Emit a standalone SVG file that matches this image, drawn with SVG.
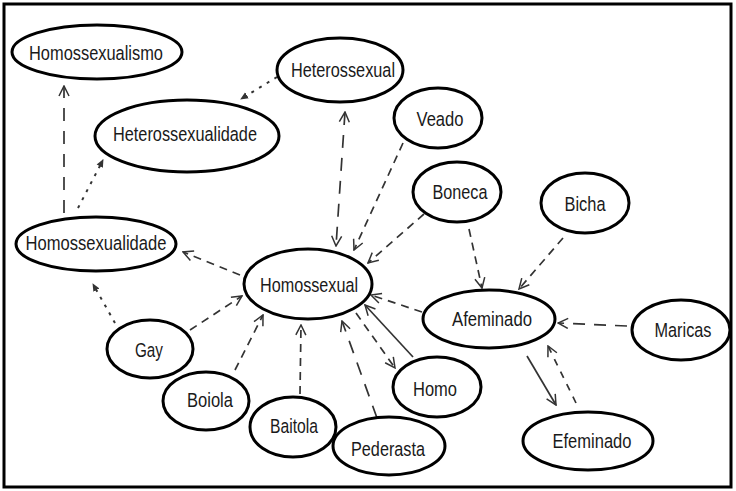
<svg xmlns="http://www.w3.org/2000/svg" width="736" height="491" viewBox="0 0 736 491">
<defs>
<marker id="open" viewBox="0 0 12 12" refX="11" refY="6" markerWidth="12" markerHeight="12" markerUnits="userSpaceOnUse" orient="auto-start-reverse">
<path d="M1,1 L11,6 L1,11" fill="none" stroke="#333" stroke-width="1.5"/>
</marker>
<marker id="tri" viewBox="0 0 8 8" refX="7" refY="4" markerWidth="8" markerHeight="8" markerUnits="userSpaceOnUse" orient="auto">
<path d="M0,0.5 L8,4 L0,7.5 Z" fill="#333"/>
</marker>
<style>
.node ellipse{fill:#fff;stroke:#000;stroke-width:3}
.node text{font-family:"Liberation Sans",Arial,sans-serif;font-size:20.5px;fill:#1a1a1a;text-anchor:middle}
.e{fill:none;stroke:#333;stroke-width:1.7}
.dash{stroke-dasharray:8,6;marker-end:url(#open)}
.long{stroke-dasharray:13,10;marker-end:url(#open)}
.dot{stroke-dasharray:3,6;stroke-width:2;marker-end:url(#tri)}
.solid{marker-end:url(#open)}
</style>
</defs>
<rect x="4" y="4" width="727" height="483" fill="#fff" stroke="#000" stroke-width="3"/>
<g id="connectors">
<line class="e long" x1="64" y1="213" x2="64" y2="86"/>
<line class="e dot" x1="78" y1="208" x2="103" y2="160"/>
<line class="e dot" x1="277" y1="77" x2="241" y2="99"/>
<line class="e long" x1="345" y1="112" x2="336" y2="246" marker-start="url(#open)"/>
<line class="e dash" x1="403" y1="143" x2="354" y2="250"/>
<line class="e dash" x1="424" y1="214" x2="368" y2="263"/>
<line class="e dash" x1="469" y1="229" x2="482" y2="288"/>
<line class="e dash" x1="563" y1="238" x2="519" y2="289"/>
<line class="e dash" style="stroke-dasharray:12,9" x1="627" y1="326" x2="558" y2="323"/>
<line class="e dash" x1="422" y1="312" x2="371" y2="295"/>
<line class="e solid" x1="527" y1="356" x2="556" y2="405"/>
<line class="e dash" style="stroke-dasharray:7,7" x1="576" y1="403" x2="548" y2="346"/>
<line class="e solid" x1="413" y1="357" x2="365" y2="305"/>
<line class="e dash" x1="356" y1="313" x2="395" y2="368"/>
<line class="e long" x1="377" y1="418" x2="342" y2="321"/>
<line class="e dash" x1="300" y1="394" x2="301" y2="325"/>
<line class="e dash" x1="235" y1="370" x2="263" y2="315"/>
<line class="e dash" x1="190" y1="330" x2="242" y2="296"/>
<line class="e dot" x1="115" y1="323" x2="93" y2="284"/>
<line class="e dash" x1="240" y1="275" x2="183" y2="252"/>
</g>
<g id="n-homossexualismo" class="node"><ellipse cx="97" cy="52" rx="85" ry="27"/><text x="96" y="60" textLength="134" lengthAdjust="spacingAndGlyphs">Homossexualismo</text></g>
<g id="n-heterossexual" class="node"><ellipse cx="340" cy="70" rx="63" ry="32"/><text x="343" y="77" textLength="104" lengthAdjust="spacingAndGlyphs">Heterossexual</text></g>
<g id="n-heterossexualidade" class="node"><ellipse cx="187" cy="136" rx="92" ry="36"/><text x="185" y="141" textLength="144" lengthAdjust="spacingAndGlyphs">Heterossexualidade</text></g>
<g id="n-homossexualidade" class="node"><ellipse cx="96" cy="244" rx="80" ry="27"/><text x="96" y="250" textLength="141" lengthAdjust="spacingAndGlyphs">Homossexualidade</text></g>
<g id="n-homossexual" class="node"><ellipse cx="308" cy="284" rx="64" ry="35"/><text x="309" y="292" textLength="98" lengthAdjust="spacingAndGlyphs">Homossexual</text></g>
<g id="n-veado" class="node"><ellipse cx="438" cy="118" rx="44" ry="30"/><text x="440" y="126" textLength="47" lengthAdjust="spacingAndGlyphs">Veado</text></g>
<g id="n-boneca" class="node"><ellipse cx="457" cy="192" rx="44" ry="30"/><text x="460" y="199" textLength="55" lengthAdjust="spacingAndGlyphs">Boneca</text></g>
<g id="n-bicha" class="node"><ellipse cx="585" cy="203" rx="44" ry="30"/><text x="585" y="211" textLength="41" lengthAdjust="spacingAndGlyphs">Bicha</text></g>
<g id="n-afeminado" class="node"><ellipse cx="489" cy="319" rx="66" ry="29"/><text x="492" y="326" textLength="80" lengthAdjust="spacingAndGlyphs">Afeminado</text></g>
<g id="n-maricas" class="node"><ellipse cx="681" cy="330" rx="49" ry="30"/><text x="683" y="337" textLength="57" lengthAdjust="spacingAndGlyphs">Maricas</text></g>
<g id="n-homo" class="node"><ellipse cx="437" cy="387" rx="44" ry="30"/><text x="435" y="396" textLength="44" lengthAdjust="spacingAndGlyphs">Homo</text></g>
<g id="n-efeminado" class="node"><ellipse cx="588" cy="441" rx="65" ry="29"/><text x="592" y="448" textLength="79" lengthAdjust="spacingAndGlyphs">Efeminado</text></g>
<g id="n-pederasta" class="node"><ellipse cx="389" cy="446" rx="56" ry="29"/><text x="388" y="456" textLength="74" lengthAdjust="spacingAndGlyphs">Pederasta</text></g>
<g id="n-gay" class="node"><ellipse cx="150" cy="349" rx="43" ry="29"/><text x="149" y="357" textLength="28" lengthAdjust="spacingAndGlyphs">Gay</text></g>
<g id="n-boiola" class="node"><ellipse cx="206" cy="401" rx="43" ry="29"/><text x="210" y="407" textLength="46" lengthAdjust="spacingAndGlyphs">Boiola</text></g>
<g id="n-baitola" class="node"><ellipse cx="293" cy="427" rx="43" ry="30"/><text x="294" y="433" textLength="48" lengthAdjust="spacingAndGlyphs">Baitola</text></g>
</svg>
